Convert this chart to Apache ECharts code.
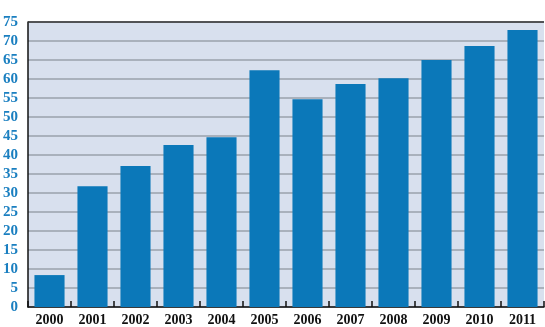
<!DOCTYPE html>
<html><head><meta charset="utf-8">
<script src="https://cdn.jsdelivr.net/npm/echarts@6/dist/echarts.min.js"></script>
<style>html,body{margin:0;padding:0;background:#fff}#c{width:545px;height:327px}</style>
</head><body><div id="c"></div>
<script>
var categories = ['2000','2001','2002','2003','2004','2005','2006','2007','2008','2009','2010','2011'];
var values = [8.4, 31.8, 37.1, 42.6, 44.7, 62.3, 54.7, 58.7, 60.2, 65.0, 68.7, 72.9];
var yMin = 0, yMax = 75, yStep = 5;

var chart = echarts.init(document.getElementById('c'));
chart.setOption({
  animation: false,
  grid: {left: 25, right: 1, top: 22, bottom: 20, show: true, backgroundColor: '#d8e0ee', borderWidth: 0},
  xAxis: {
    type: 'category', data: categories,
    axisLine: {lineStyle: {color: '#111', width: 1.5}},
    axisTick: {show: true, inside: true, length: 6, lineStyle: {color: '#111', width: 1.5}},
    axisLabel: {color: '#111', fontFamily: 'Liberation Serif', fontWeight: 'bold', fontSize: 14, margin: 6}
  },
  yAxis: {
    type: 'value', min: yMin, max: yMax, interval: yStep,
    axisLine: {show: true, lineStyle: {color: '#111', width: 1.5}},
    axisTick: {show: false},
    splitLine: {lineStyle: {color: '#9aa2ab', width: 1.5}},
    axisLabel: {color: '#1a7fc0', fontFamily: 'Liberation Serif', fontWeight: 'bold', fontSize: 15, margin: 10}
  },
  series: [{
    type: 'bar', data: values, barCategoryGap: '30%',
    itemStyle: {color: '#0b78b9'}
  }, {
    type: 'line', data: [], markLine: {silent: true, symbol: 'none', label: {show: false},
      lineStyle: {color: '#333', width: 1.5, type: 'solid'}, data: [{yAxis: yMax}]}
  }]
});
</script></body></html>
